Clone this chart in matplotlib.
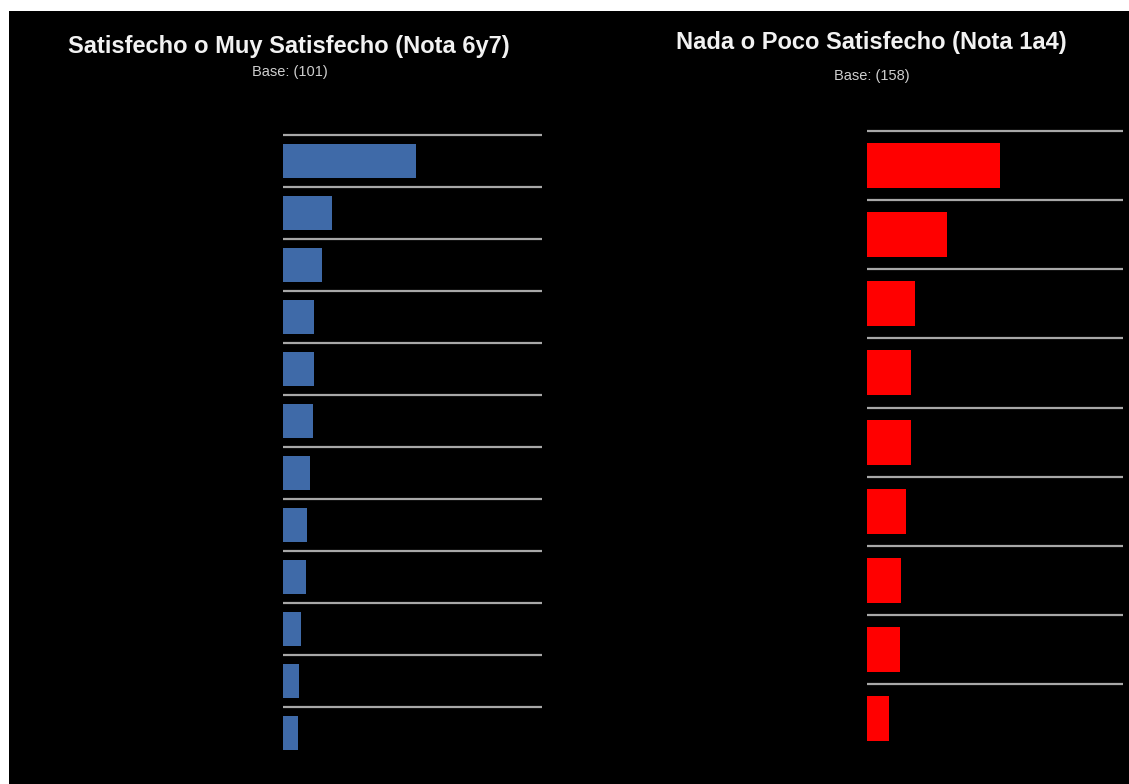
import numpy as np
import matplotlib.pyplot as plt
from matplotlib.patches import Rectangle

# share of respondents per item (%), ordered top to bottom
satisfied = [25.6, 9.5, 7.6, 6.0, 6.0, 5.7, 5.2, 4.6, 4.4, 3.4, 3.0, 2.9]
unsatisfied = [26.0, 15.6, 9.3, 8.6, 8.6, 7.6, 6.7, 6.5, 4.2]

left_title = "Satisfecho o Muy Satisfecho (Nota 6y7)"
left_base = "Base: (101)"
right_title = "Nada o Poco Satisfecho (Nota 1a4)"
right_base = "Base: (158)"

W, H = 1129, 784
fig = plt.figure(figsize=(W / 100, H / 100), dpi=100, facecolor='white')
fig.patches.append(Rectangle((9 / W, 0), 1, (H - 11) / H, transform=fig.transFigure,
                             facecolor='black', edgecolor='none', zorder=-10))

font = ['Liberation Sans', 'DejaVu Sans']


def panel(rect, values, color):
    ax = fig.add_axes(rect, zorder=5)
    ax.set_facecolor('none')
    n = len(values)
    y = np.arange(n)
    ax.barh(y, values, height=0.65, color=color, zorder=2)
    ax.hlines(y - 0.5, 0, 50, color='#a8a8a8', linewidth=1.6, zorder=1, clip_on=False)
    ax.set_xlim(0, 50)
    ax.set_ylim(n - 0.5, -0.5)
    ax.axis('off')
    return ax


panel([283 / W, 25 / H, 259 / W, 624 / H], satisfied, '#3f6aa8')
panel([867 / W, 30.5 / H, 256 / W, 622.8 / H], unsatisfied, '#ff0000')

fig.text(289 / W, 1 - 46 / H, left_title, ha='center', va='center', color='#f2f2f2',
         fontsize=17, fontweight='bold', family=font, zorder=6)
fig.text(290 / W, 1 - 72 / H, left_base, ha='center', va='center', color='#cfcfcf',
         fontsize=10.5, family=font, zorder=6)
fig.text(871 / W, 1 - 43 / H, right_title, ha='center', va='center', color='#f2f2f2',
         fontsize=17, fontweight='bold', family=font, zorder=6)
fig.text(872 / W, 1 - 76 / H, right_base, ha='center', va='center', color='#cfcfcf',
         fontsize=10.5, family=font, zorder=6)

fig.savefig('out.png', dpi=100, facecolor=fig.get_facecolor())
